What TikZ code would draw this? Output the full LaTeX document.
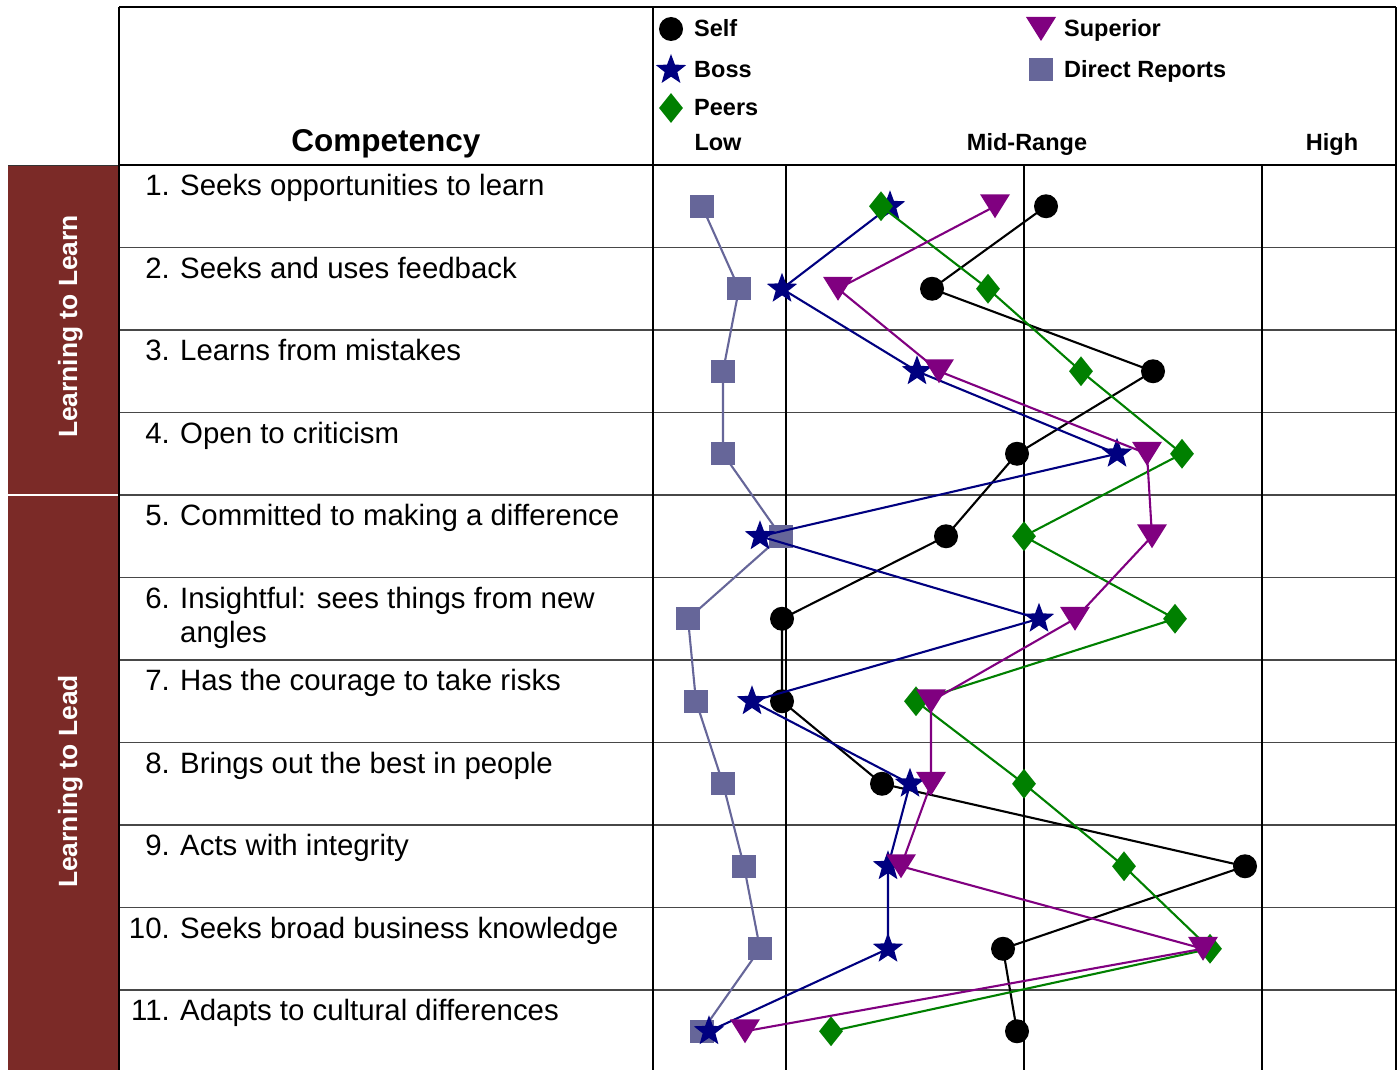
\documentclass[tikz,border=0pt]{standalone}
\usepackage{fontspec}
\setmainfont{Liberation Sans}
\usetikzlibrary{shapes.geometric}
\definecolor{brownbar}{HTML}{7B2A27}
\definecolor{drcol}{HTML}{666699}
\definecolor{bosscol}{HTML}{000080}
\definecolor{peercol}{HTML}{008000}
\definecolor{supcol}{HTML}{800080}
\newcommand\cmpItemFont{\fontsize{29.4}{34}\selectfont}
\newcommand\cmpLegFont{\fontsize{23.5}{28}\selectfont\bfseries}
\newcommand\cmpHeadFont{\fontsize{31.5}{36}\selectfont\bfseries}
\newcommand\cmpSideFont{\fontsize{26.4}{30}\selectfont\bfseries}
\begin{document}
\begin{tikzpicture}[x=1pt,y=-1pt,
  gridline/.style={line width=1.5pt, draw=black!72},
  colline/.style={line width=1.2pt, draw=black},
  ser/.style={line width=2.1pt, line join=round},
  mk self/.style={circle, fill=black, minimum size=24pt, inner sep=0pt},
  mk boss/.style={star, star points=5, star point ratio=2.4, fill=bosscol, minimum size=32pt, inner sep=0pt},
  mk peer/.style={diamond, fill=peercol, minimum width=24pt, minimum height=30pt, inner sep=0pt},
  mk sup/.style={rectangle, minimum width=30pt, minimum height=24pt, inner sep=0pt,
    path picture={\fill[supcol] (path picture bounding box.north west) -- (path picture bounding box.north east) -- (path picture bounding box.south) -- cycle;}},
  mk dr/.style={rectangle, fill=drcol, minimum width=24pt, minimum height=23pt, inner sep=0pt},
  numtxt/.style={anchor=base east, inner sep=0pt, font=\cmpItemFont},
  itemtxt/.style={anchor=base west, inner sep=0pt, font=\cmpItemFont},
  legtxt/.style={anchor=base west, inner sep=0pt, font=\cmpLegFont},
  scaletxt/.style={anchor=base, inner sep=0pt, font=\cmpLegFont},
  sidetxt/.style={anchor=base, inner sep=0pt, rotate=90, text=white, font=\cmpSideFont}
]
\useasboundingbox (0,0) rectangle (1400,1070);
\fill[white] (0,0) rectangle (1400,1070);

% brown side bar
\fill[brownbar] (8,165) rectangle (119,1070);
\draw[white, line width=1.5pt] (8,495) -- (119,495);
\draw[black!80, line width=1pt] (8,165) -- (119,165);

% table lines
\foreach \r in {1,...,10} \draw[gridline] (119,{165+82.5*\r}) -- (1396,{165+82.5*\r});
\draw[colline] (119,7) -- (1396,7);
\draw[colline] (119,165) -- (1396,165);
\draw[colline] (119,7) -- (119,1070);
\draw[colline] (653,7) -- (653,1070);
\draw[colline] (1396,7) -- (1396,1070);
\foreach \vx in {786,1024,1262} \draw[colline] (\vx,165) -- (\vx,1070);

% side labels
\node[sidetxt] (sideA) at (77,326.5) {Learning to Learn};
\node[sidetxt] (sideB) at (77,781.5) {Learning to Lead};

% header
\node[anchor=base, inner sep=0pt, font=\cmpHeadFont] (hcomp) at (386,151) {Competency};
\node[scaletxt] (hlow) at (718,150) {Low};
\node[scaletxt] (hmid) at (1027,150) {Mid-Range};
\node[scaletxt] (hhigh) at (1332,150) {High};

% legend
\node[mk self] (lself) at (671,29) {};
\node[legtxt] (tself) at (694,37) {Self};
\node[mk boss] (lboss) at (671,70) {};
\node[legtxt] (tboss) at (694,78) {Boss};
\node[mk peer] (lpeer) at (671,108) {};
\node[legtxt] (tpeer) at (694,116) {Peers};
\node[mk sup] (lsup) at (1041,29) {};
\node[legtxt] (tsup) at (1064,37) {Superior};
\node[mk dr] (ldr) at (1041,70) {};
\node[legtxt] (tdr) at (1064,78) {Direct Reports};

% competency texts
\foreach \t [count=\i] in {Seeks opportunities to learn, Seeks and uses feedback, Learns from mistakes, Open to criticism, Committed to making a difference, Insightful: sees things from new, Has the courage to take risks, Brings out the best in people, Acts with integrity, Seeks broad business knowledge, Adapts to cultural differences}{
  \node[numtxt] (num-\i) at (170,{165+82.5*(\i-1)+30.5}) {\i.};
  \node[itemtxt] (item-\i) at (180,{165+82.5*(\i-1)+30.5}) {\t};
}
\node[itemtxt] (item-6b) at (180,{165+82.5*5+30.5+34}) {angles};

% data coordinates
\foreach \vx [count=\i] in {702,739,723,723,781,688,696,723,744,760,702}
  \coordinate (dr-\i) at (\vx,{165+82.5*\i-41.25});
\foreach \vx [count=\i] in {1046,932,1153,1017,946,782,782,882,1245,1003,1017}
  \coordinate (self-\i) at (\vx,{165+82.5*\i-41.25});
\foreach \vx [count=\i] in {890,782,917,1117,760,1039,752,910,888,888,709}
  \coordinate (boss-\i) at (\vx,{165+82.5*\i-41.25});
\foreach \vx [count=\i] in {881,988,1081,1182,1024,1175,916,1024,1124,1210,831}
  \coordinate (peer-\i) at (\vx,{165+82.5*\i-41.25});
\foreach \vx [count=\i] in {995,838,939,1147,1152,1075,931,931,901,1203,745}
  \coordinate (sup-\i) at (\vx,{165+82.5*\i-41.25});

% Direct Reports
\draw[ser, drcol] (dr-1) \foreach \i in {2,...,11}{ -- (dr-\i)};
\foreach \i in {1,...,11} \node[mk dr] (mdr-\i) at (dr-\i) {};
% Self
\draw[ser, black] (self-1) \foreach \i in {2,...,11}{ -- (self-\i)};
\foreach \i in {1,...,11} \node[mk self] (mself-\i) at (self-\i) {};
% Boss
\draw[ser, bosscol] (boss-1) \foreach \i in {2,...,11}{ -- (boss-\i)};
\foreach \i in {1,...,11} \node[mk boss] (mboss-\i) at (boss-\i) {};
% Peers
\draw[ser, peercol] (peer-1) \foreach \i in {2,...,11}{ -- (peer-\i)};
\foreach \i in {1,...,11} \node[mk peer] (mpeer-\i) at (peer-\i) {};
% Superior
\draw[ser, supcol] (sup-1) \foreach \i in {2,...,11}{ -- (sup-\i)};
\foreach \i in {1,...,11} \node[mk sup] (msup-\i) at (sup-\i) {};
\end{tikzpicture}
\end{document}
